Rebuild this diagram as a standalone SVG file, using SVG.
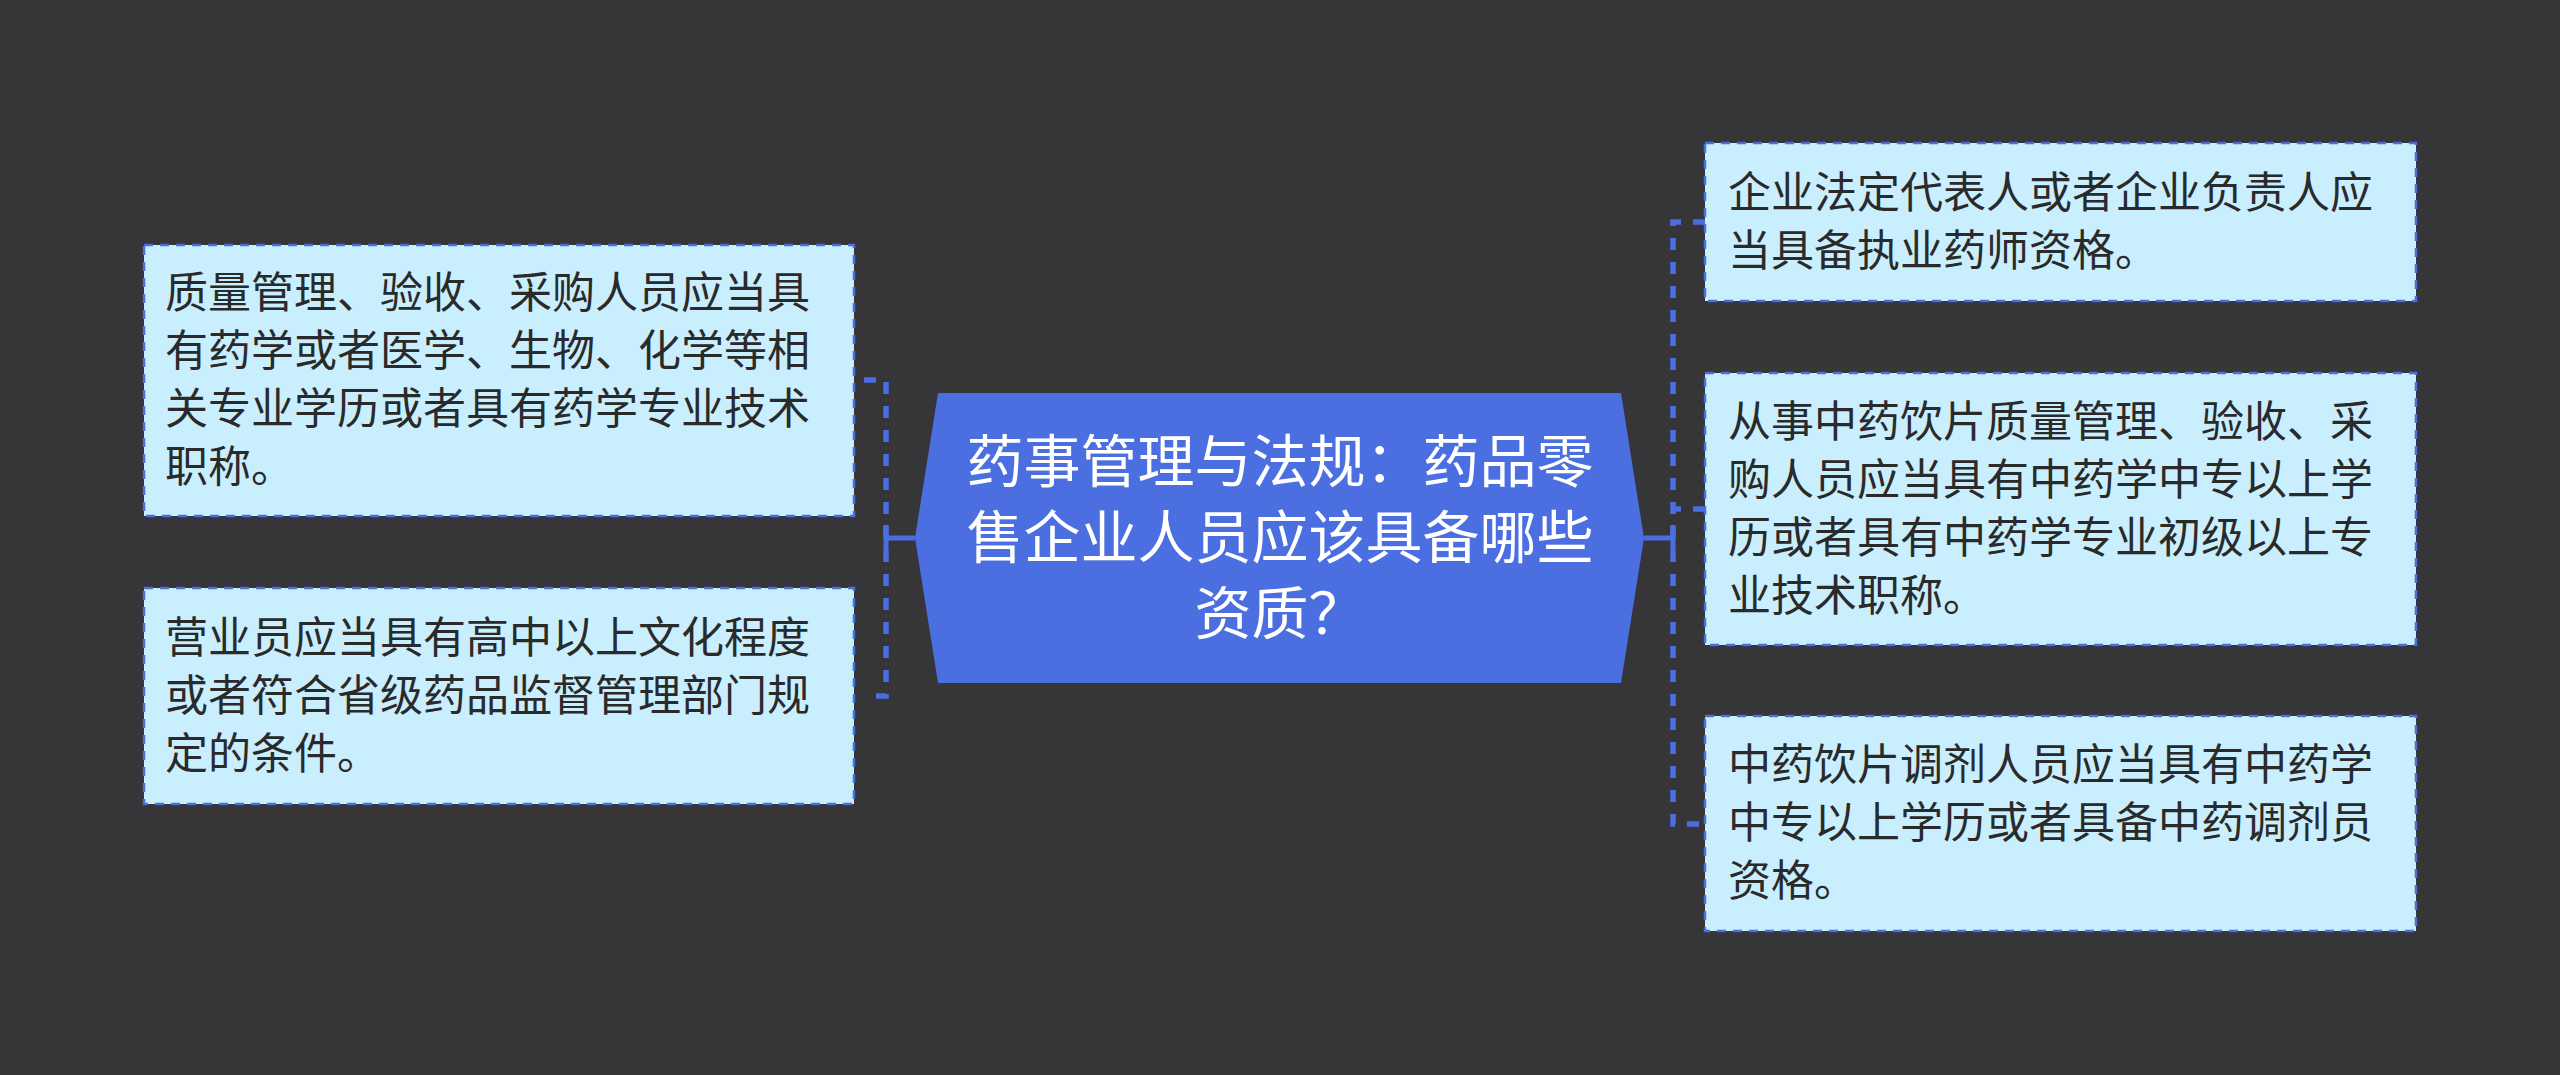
<svg xmlns="http://www.w3.org/2000/svg" width="2560" height="1075" viewBox="0 0 2560 1075">
<style>
.bg{fill:#363538}
.box{fill:#c9eefd;stroke:#4a6ee0;stroke-width:2.5;stroke-dasharray:9 7}
.t{font-family:"Noto Sans CJK SC","Noto Sans",sans-serif;font-size:43px;fill:#2a2a2a}
.ct{font-family:"Noto Sans CJK SC","Noto Sans",sans-serif;font-size:57px;fill:#ffffff;text-anchor:middle}
.dash{fill:none;stroke:#4a6ee0;stroke-width:5.5;stroke-dasharray:12 12}
.solid{fill:none;stroke:#4a6ee0;stroke-width:5}
</style>
<rect class="bg" x="0" y="0" width="2560" height="1075"/>
<g id="connectors">
<path class="solid" d="M915 538 H886 M886 525 V550"/>
<path class="dash" d="M864 380 H886 V696 H864"/>
<path class="solid" d="M1644 538 H1673 M1673 525 V550"/>
<path class="dash" d="M1705 222 H1673 V824 H1705"/>
<path class="dash" d="M1705 509 H1673"/>
</g>
<g id="center">
<polygon points="938,393 1621,393 1644,538 1621,683 938,683 915,538" fill="#4b6fe0"/>
<text class="ct"><tspan x="1280" y="482">药事管理与法规：药品零</tspan><tspan x="1280" y="558">售企业人员应该具备哪些</tspan><tspan x="1280" y="634">资质？</tspan></text>
</g>
<g id="left1">
<rect class="box" x="144" y="245" width="710" height="271"/>
<text class="t"><tspan x="165" y="308">质量管理、验收、采购人员应当具</tspan><tspan x="165" y="366">有药学或者医学、生物、化学等相</tspan><tspan x="165" y="424">关专业学历或者具有药学专业技术</tspan><tspan x="165" y="482">职称。</tspan></text>
</g>
<g id="left2">
<rect class="box" x="144" y="588" width="710" height="216"/>
<text class="t"><tspan x="165" y="653">营业员应当具有高中以上文化程度</tspan><tspan x="165" y="711">或者符合省级药品监督管理部门规</tspan><tspan x="165" y="769">定的条件。</tspan></text>
</g>
<g id="right1">
<rect class="box" x="1705" y="143" width="711" height="158"/>
<text class="t"><tspan x="1728" y="208">企业法定代表人或者企业负责人应</tspan><tspan x="1728" y="266">当具备执业药师资格。</tspan></text>
</g>
<g id="right2">
<rect class="box" x="1705" y="373" width="711" height="272"/>
<text class="t"><tspan x="1728" y="437">从事中药饮片质量管理、验收、采</tspan><tspan x="1728" y="495">购人员应当具有中药学中专以上学</tspan><tspan x="1728" y="553">历或者具有中药学专业初级以上专</tspan><tspan x="1728" y="611">业技术职称。</tspan></text>
</g>
<g id="right3">
<rect class="box" x="1705" y="716" width="711" height="215"/>
<text class="t"><tspan x="1728" y="780">中药饮片调剂人员应当具有中药学</tspan><tspan x="1728" y="838">中专以上学历或者具备中药调剂员</tspan><tspan x="1728" y="896">资格。</tspan></text>
</g>
</svg>
